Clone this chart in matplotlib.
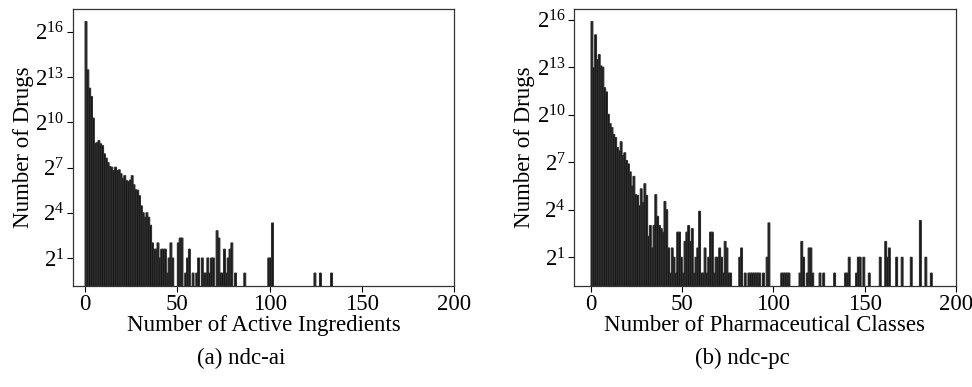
import numpy as np
import matplotlib
matplotlib.use("Agg")
import matplotlib.pyplot as plt
from matplotlib.ticker import FixedLocator, NullLocator

# ── Data: number of drugs per count bin (bin k spans [k, k+1)) ────────────────
AI_DENSE = [105000, 11400, 4900, 3350, 1240, 390, 400, 440, 380, 350,
            240, 197, 160, 134, 130, 111, 130, 111, 115, 96,
            78, 88, 70, 67, 72, 88, 58, 46, 45, 35,
            22, 16, 13, 16, 13, 9, 4, 3, 3, 4]
AI_SPARSE_BINS = [40, 41, 42, 43, 44, 45, 46, 47, 50, 51, 52, 54, 55, 56, 58,
                  60, 61, 63, 64, 65, 66, 67, 68, 69, 71, 72, 73, 74, 75, 76,
                  77, 78, 79, 81, 86, 99, 100, 101, 124, 127, 133]
AI_SPARSE_COUNTS = [2, 3, 3, 3, 1, 2, 4, 2, 4, 5, 5, 1, 2, 3, 1,
                    1, 2, 2, 1, 1, 2, 1, 2, 2, 7, 5, 1, 1, 3, 1,
                    2, 3, 4, 1, 1, 2, 2, 10, 1, 1, 1]

PC_DENSE = [60700, 8020, 33900, 11500, 14260, 8660, 8190, 3350, 2780, 1045,
            695, 584, 434, 377, 244, 211, 315, 172, 194, 138,
            119, 84, 45, 69, 31, 30, 19, 40, 22, 50,
            30, 5, 8, 3, 8, 31, 12, 8, 7, 6]
PC_SPARSE_BINS = [40, 41, 42, 43, 44, 45, 46, 47, 48, 49, 50, 51, 52, 53, 54,
                  55, 56, 57, 58, 59, 60, 61, 62, 63, 64, 65, 66, 67, 68, 69,
                  70, 71, 72, 73, 74, 75, 76, 81, 82, 84, 86, 87, 88, 89, 90,
                  91, 92, 94, 96, 97, 104, 105, 106, 107, 108, 114, 115, 116,
                  118, 119, 120, 121, 125, 127, 133, 139, 140, 141, 145, 146,
                  147, 149, 152, 158, 161, 162, 163, 167, 170, 175, 180, 183, 186]
PC_SPARSE_COUNTS = [23, 16, 3, 1, 3, 2, 1, 6, 6, 2, 1, 4, 6, 8, 4,
                    7, 1, 2, 3, 15, 1, 1, 3, 1, 2, 6, 6, 1, 2, 2,
                    3, 2, 1, 4, 3, 1, 1, 2, 3, 1, 1, 1, 1, 1, 1,
                    1, 1, 1, 2, 9, 1, 1, 1, 1, 1, 1, 4, 2,
                    1, 3, 3, 1, 1, 1, 1, 1, 1, 2, 1, 2,
                    2, 2, 1, 2, 4, 2, 3, 2, 2, 2, 10, 2, 1]

Y_POWERS = [1, 4, 7, 10, 13, 16]
X_TICKS = [0, 50, 100, 150, 200]

PANELS = [
    ("Number of Active Ingredients", "(a) ndc-ai", AI_DENSE, AI_SPARSE_BINS, AI_SPARSE_COUNTS),
    ("Number of Pharmaceutical Classes", "(b) ndc-pc", PC_DENSE, PC_SPARSE_BINS, PC_SPARSE_COUNTS),
]

# ── Style ─────────────────────────────────────────────────────────────────────
FS = 16.5
plt.rcParams.update({
    "font.family": ["Liberation Serif", "DejaVu Serif"],
    "mathtext.fontset": "custom",
    "mathtext.rm": "Liberation Serif",
    "mathtext.it": "Liberation Serif:italic",
    "font.size": FS,
    "axes.linewidth": 0.9,
    "axes.edgecolor": "#333333",
})

AX_RECTS = [[0.0748, 0.2618, 0.3926, 0.715], [0.5905, 0.2618, 0.3930, 0.715]]
CAPTION_X = [0.248, 0.764]


def counts_for(dense, bins, counts):
    xs = list(range(len(dense))) + list(bins)
    ys = list(dense) + list(counts)
    return np.array(xs), np.array(ys)


fig = plt.figure(figsize=(9.72, 3.87), dpi=100)

for rect, cx, (xlabel, caption, dense, sbins, scounts) in zip(AX_RECTS, CAPTION_X, PANELS):
    ax = fig.add_axes(rect)
    xs, ys = counts_for(dense, sbins, scounts)
    ax.bar(xs, ys, width=1.0, align="edge", facecolor="#111111",
           edgecolor="#2e2e2e", linewidth=0.8, snap=False)
    ax.set_yscale("log", base=2)
    top = np.log2(ys.max())
    pad = 0.05 * top
    ax.set_ylim(2 ** (-pad), 2 ** (top + pad))
    ax.yaxis.set_major_locator(FixedLocator([2 ** p for p in Y_POWERS]))
    ax.set_yticklabels([rf"$2^{{{p}}}$" for p in Y_POWERS])
    ax.yaxis.set_minor_locator(NullLocator())
    xmax_data = xs.max() + 1
    ax.set_xlim(-0.05 * xmax_data, 200)
    ax.set_xticks(X_TICKS)
    ax.tick_params(labelsize=FS, length=4, width=0.8, pad=2)
    ax.set_xlabel(xlabel, fontsize=FS, labelpad=0)
    ax.set_ylabel("Number of Drugs", fontsize=FS, labelpad=1)
    fig.text(cx, 0.075, caption, ha="center", va="center", fontsize=FS)

fig.savefig("out.png", dpi=100, facecolor="white")
